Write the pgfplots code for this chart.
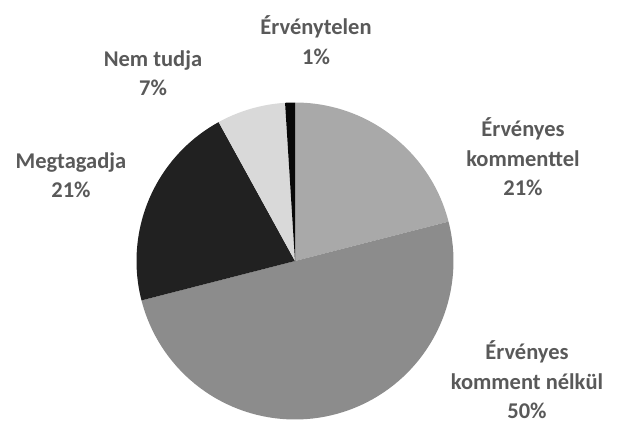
\documentclass[border=0pt]{standalone}
\usepackage{pgfplots}
\pgfplotsset{compat=1.18}
\usepackage{fontspec}
\setmainfont{Carlito}
\definecolor{txt}{HTML}{595959}
\definecolor{cA}{HTML}{A9A9A9}
\definecolor{cB}{HTML}{8C8C8C}
\definecolor{cC}{HTML}{212121}
\definecolor{cD}{HTML}{D9D9D9}
\definecolor{cE}{HTML}{080808}
% #1 cumulative start (%), #2 cumulative end (%), #3 colour
\newcommand{\slice}[3]{%
  \addplot[draw=none, fill=#3, domain={90-3.6*#2}:{90-3.6*#1}, samples=80, variable=\t]
    ({295+158.5*cos(\t)},{163+158.5*sin(\t)}) -- (axis cs:295,163) -- cycle;}
\begin{document}
\begin{tikzpicture}
\useasboundingbox (0,0) rectangle (628pt,424pt);
\begin{axis}[hide axis, xmin=0, xmax=628, ymin=0, ymax=424,
  width=628pt, height=424pt, scale only axis, clip=false]
% values: 21, 50, 21, 7, 1 (clockwise from 12 o'clock)
\slice{0}{21}{cA}
\slice{21}{71}{cB}
\slice{71}{92}{cC}
\slice{92}{99}{cD}
\slice{99}{100}{cE}
\begin{scope}[every node/.style={align=center, text=txt, inner sep=0pt, font=\fontsize{22.5}{29.5}\selectfont\bfseries}]
\node at (axis cs:316,384) {Érvénytelen\\1\%};
\node at (axis cs:153,351) {Nem tudja\\7\%};
\node at (axis cs:71,249) {Megtagadja\\21\%};
\node at (axis cs:523,267) {Érvényes\\kommenttel\\21\%};
\node at (axis cs:527,44) {Érvényes\\komment nélkül\\50\%};
\end{scope}
\end{axis}
\end{tikzpicture}
\end{document}
